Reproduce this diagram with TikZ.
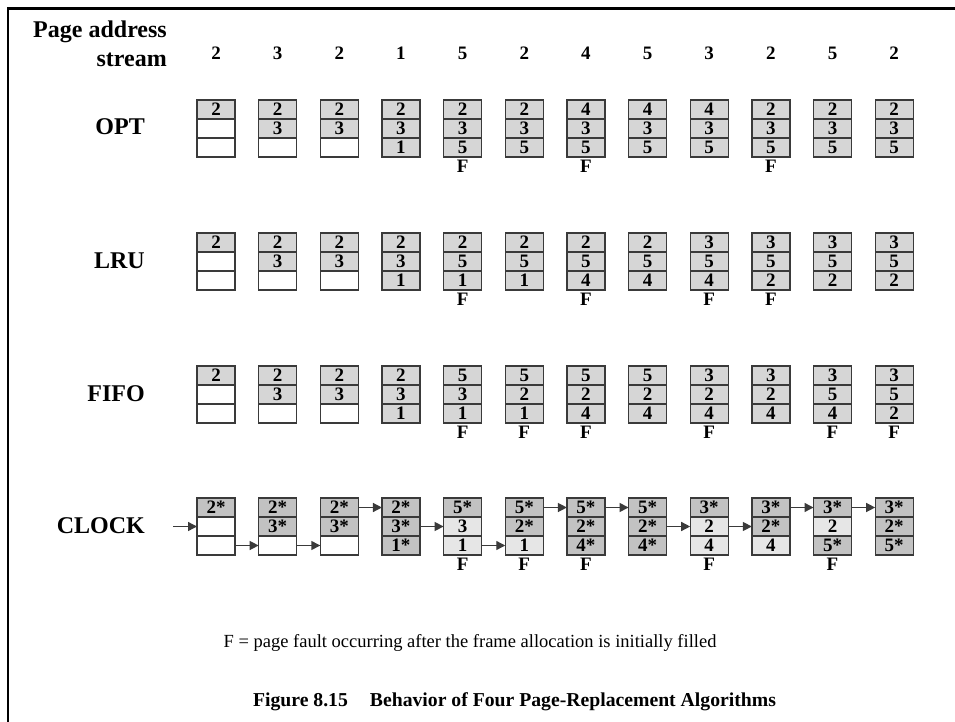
\documentclass[tikz,border=0pt]{standalone}
\usepackage{fontspec}
\setmainfont{Liberation Serif}
\usetikzlibrary{arrows.meta,positioning}
\definecolor{FrameLine}{HTML}{3A3A3A}
\definecolor{HeldGray}{HTML}{D6D6D6}
\definecolor{RefGray}{HTML}{C2C2C2}
\definecolor{UnrefGray}{HTML}{E6E6E6}
\tikzset{
  slot/.style={draw=FrameLine, line width=1.3pt, minimum width=38pt, minimum height=19pt,
    inner sep=0pt, outer sep=0pt, font=\fontsize{19}{19}\selectfont\bfseries},
  held/.style={fill=HeldGray},
  free/.style={fill=white},
  ref/.style={fill=RefGray},
  unref/.style={fill=UnrefGray},
  fault/.style={font=\fontsize{19}{19}\selectfont\bfseries, inner sep=0pt,
    text height=12pt, text depth=0pt},
  algname/.style={font=\fontsize{24}{24}\selectfont\bfseries, inner sep=0pt, anchor=base east},
  pageref/.style={font=\fontsize{19}{19}\selectfont\bfseries, inner sep=0pt, anchor=base},
  hand/.style={-{Triangle[length=9pt,width=9pt]}, line width=1.4pt, FrameLine}
}
% one row of frame stacks: name, centre of top slot, data, fault columns
\newcommand{\framerow}[4]{%
  \foreach \c/\sa/\ta/\sb/\tb/\sc/\tc in {#3}{
    \pgfmathsetmacro{\xc}{216+(\c-1)*61.65}
    \node[slot,\sa] (#1-\c-1) at (\xc,#2) {\ta};
    \node[slot,\sb,below=0pt of #1-\c-1] (#1-\c-2) {\tb};
    \node[slot,\sc,below=0pt of #1-\c-2] (#1-\c-3) {\tc};
  }
  \foreach \c in {#4}
    \node[fault, below=3pt of #1-\c-3] (#1-\c-F) {F};
}

\begin{document}
\begin{tikzpicture}[x={(1pt,0)}, y={(0,-1pt)}]
  \useasboundingbox (0,0) rectangle (955,722);
  \draw[line width=2.6pt] (8,722) -- (8,8.7) -- (955,8.7);

  % heading and page address stream
  \node[algname] (hdr-page) at (167,38) {Page address};
  \node[algname] (hdr-stream) at (167,67) {stream};
  \foreach \c/\p in {1/2,2/3,3/2,4/1,5/5,6/2,7/4,8/5,9/3,10/2,11/5,12/2}
    \node[pageref] (page-\c) at ({216+(\c-1)*61.65},60) {\p};

  \node[algname] (opt) at (145,135) {OPT};
  \node[algname] (lru) at (145,268) {LRU};
  \node[algname] (fifo) at (145,401) {FIFO};
  \node[algname] (clock) at (145,533) {CLOCK};

  \framerow{opt}{109.5}{
    1/held/2/free/{}/free/{}, 2/held/2/held/3/free/{}, 3/held/2/held/3/free/{},
    4/held/2/held/3/held/1, 5/held/2/held/3/held/5, 6/held/2/held/3/held/5,
    7/held/4/held/3/held/5, 8/held/4/held/3/held/5, 9/held/4/held/3/held/5,
    10/held/2/held/3/held/5, 11/held/2/held/3/held/5, 12/held/2/held/3/held/5}{5,7,10}

  \framerow{lru}{242.5}{
    1/held/2/free/{}/free/{}, 2/held/2/held/3/free/{}, 3/held/2/held/3/free/{},
    4/held/2/held/3/held/1, 5/held/2/held/5/held/1, 6/held/2/held/5/held/1,
    7/held/2/held/5/held/4, 8/held/2/held/5/held/4, 9/held/3/held/5/held/4,
    10/held/3/held/5/held/2, 11/held/3/held/5/held/2, 12/held/3/held/5/held/2}{5,7,9,10}

  \framerow{fifo}{375.5}{
    1/held/2/free/{}/free/{}, 2/held/2/held/3/free/{}, 3/held/2/held/3/free/{},
    4/held/2/held/3/held/1, 5/held/5/held/3/held/1, 6/held/5/held/2/held/1,
    7/held/5/held/2/held/4, 8/held/5/held/2/held/4, 9/held/3/held/2/held/4,
    10/held/3/held/2/held/4, 11/held/3/held/5/held/4, 12/held/3/held/5/held/2}{5,6,7,9,11,12}

  \framerow{clock}{507.5}{
    1/ref/2*/free/{}/free/{}, 2/ref/2*/ref/3*/free/{}, 3/ref/2*/ref/3*/free/{},
    4/ref/2*/ref/3*/ref/1*, 5/ref/5*/unref/3/unref/1, 6/ref/5*/ref/2*/unref/1,
    7/ref/5*/ref/2*/ref/4*, 8/ref/5*/ref/2*/ref/4*, 9/ref/3*/unref/2/unref/4,
    10/ref/3*/ref/2*/unref/4, 11/ref/3*/unref/2/ref/5*, 12/ref/3*/ref/2*/ref/5*}{5,6,7,9,11}

  % clock hand
  \coordinate (clock-in) at (173,526.5);
  \draw[hand] (clock-in) -- (clock-1-2.west);
  \foreach \c/\n/\s in {1/2/3,2/3/3,3/4/1,4/5/2,5/6/3,6/7/1,7/8/1,8/9/2,9/10/2,10/11/1,11/12/1}
    \draw[hand] (clock-\c-\s.east) -- (clock-\n-\s.west);

  \node[font=\fontsize{18.5}{19}\selectfont, inner sep=0pt, anchor=base] (legend) at (470,647)
    {F = page fault occurring after the frame allocation is initially filled};
  \node[font=\fontsize{19.7}{20}\selectfont\bfseries, inner sep=0pt, anchor=base] (caption) at (514.5,706)
    {Figure 8.15\hspace{22pt}Behavior of Four Page-Replacement Algorithms};
\end{tikzpicture}
\end{document}
